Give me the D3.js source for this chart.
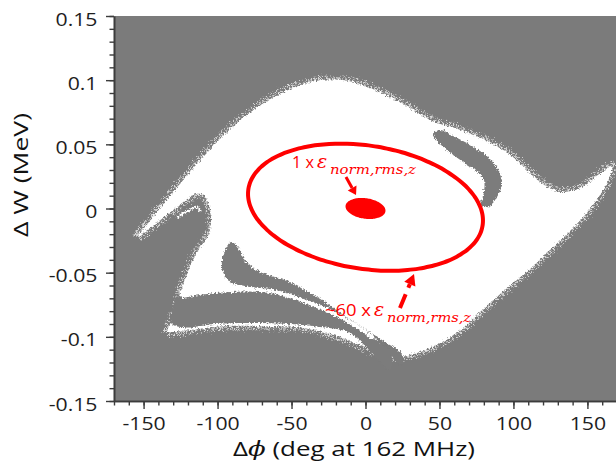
<!DOCTYPE html>
<html>
<head>
<meta charset="utf-8">
<script src="https://cdn.jsdelivr.net/npm/d3@7"></script>
<style>
  html, body { margin: 0; padding: 0; background: #ffffff; }
  svg { display: block; }
</style>
</head>
<body>
<svg id="chart" width="616" height="472"></svg>
<script>
// ---- axis ticks ----
const xTicks = [-150, -100, -50, 0, 50, 100, 150];
const xTickLabels = ["-150", "-100", "-50", "0", "50", "100", "150"];
const yTicks = [-0.15, -0.1, -0.05, 0, 0.05, 0.1, 0.15];
const yTickLabels = ["-0.15", "-0.1", "-0.05", "0", "0.05", "0.1", "0.15"];

// ---- longitudinal acceptance (Δφ in deg, ΔW in MeV) ----
// outer edge of the accepted (white) region, clockwise from the left spike tip
const acceptanceEdge = [
  [-154.5, -0.0222], [-149.0, -0.0144], [-138.9, 0.0004], [-128.8, 0.0144],
  [-118.6, 0.0284], [-108.5, 0.0417], [-95.0, 0.0581], [-79.4, 0.0736],
  [-63.2, 0.0861], [-45.6, 0.0955], [-29.4, 0.1001], [-11.8, 0.0994],
  [-0.3, 0.0955], [22.0, 0.0838], [45.0, 0.0682], [60.5, 0.0627],
  [76.0, 0.0557], [94.3, 0.0448], [107.8, 0.0316], [118.0, 0.0206],
  [131.5, 0.0129], [146.3, 0.0168], [157.2, 0.0261], [166.6, 0.0331],
  [163.2, 0.0199], [157.2, 0.0082], [148.4, -0.0051], [136.9, -0.0191],
  [124.7, -0.0323], [112.5, -0.0456], [94.3, -0.0635], [78.7, -0.0791],
  [62.5, -0.0962], [45.0, -0.1079], [22.0, -0.1157], [6.4, -0.1110],
  [-17.2, -0.1001], [-44.3, -0.0927], [-71.3, -0.0916], [-98.4, -0.0919],
  [-122.0, -0.0951], [-133.5, -0.0955], [-130.1, -0.0853], [-126.7, -0.0713],
  [-122.7, -0.0573], [-117.3, -0.0417], [-111.2, -0.0292], [-106.5, -0.0214],
  [-104.4, -0.0105], [-105.8, 0.0027], [-109.8, 0.0105], [-114.6, 0.0113],
  [-121.3, 0.0066], [-130.8, -0.0019], [-140.3, -0.0105], [-148.4, -0.0175]
];

// lost-particle islands inside the accepted region
const hookIsland = [
  [50.4, 0.0612], [60.5, 0.0557], [72.0, 0.0487], [82.8, 0.0401],
  [89.6, 0.0300], [92.3, 0.0199], [88.9, 0.0090], [82.8, 0.0012],
  [78.1, 0.0027], [80.1, 0.0129], [80.1, 0.0214], [76.0, 0.0284],
  [67.9, 0.0347], [58.5, 0.0425], [50.4, 0.0503], [45.6, 0.0581]
];
const wedgeIsland = [
  [-90.9, -0.0261], [-86.2, -0.0300], [-80.8, -0.0417], [-72.7, -0.0487],
  [-61.2, -0.0534], [-51.0, -0.0573], [-38.9, -0.0651], [-27.4, -0.0729],
  [-13.9, -0.0838], [-0.3, -0.0939], [13.2, -0.1040], [24.7, -0.1134],
  [24.7, -0.1227], [6.4, -0.1009], [-7.1, -0.0900], [-24.0, -0.0791],
  [-44.3, -0.0697], [-64.6, -0.0635], [-81.5, -0.0604], [-92.3, -0.0565],
  [-97.0, -0.0464], [-95.6, -0.0347]
];
const lensIsland = [
  [-128.1, -0.0697], [-101.7, -0.0647], [-78.1, -0.0639], [-61.2, -0.0655],
  [-44.3, -0.0709], [-24.0, -0.0803], [-7.1, -0.0912], [6.4, -0.1021],
  [16.6, -0.1110], [16.6, -0.1258], [-10.5, -0.0970], [-30.8, -0.0923],
  [-51.0, -0.0900], [-78.1, -0.0892], [-101.7, -0.0900], [-122.0, -0.0927],
  [-131.5, -0.0892], [-130.8, -0.0791]
];
// thin surviving filaments between the lost-particle islands
const fingerFilament = [[-128.1, -0.0074], [-120.0, -0.0019], [-113.9, 0.0012], [-111.2, -0.0027]];
const bowlFilament = [
  [-124.0, -0.0682], [-101.7, -0.0643], [-78.1, -0.0631], [-61.2, -0.0651],
  [-44.3, -0.0709], [-24.0, -0.0803], [-7.1, -0.0908], [4.4, -0.1001]
];

// ---- beam ellipses: centre, half-extents and φ–W correlation ----
const rmsEllipse = { phi0: 0, w0: 0.0, phiHalf: 13.5, wHalf: 0.0082, rho: -0.2 };
const bigEllipse = { phi0: 0, w0: 0.001, phiHalf: 79.4, wHalf: 0.0495, rho: -0.21 };

// ---- annotation anchors (data units) ----
const rmsLabelAt = [-49.7, 0.0316];
const bigLabelAt = [-27.4, -0.0838];
const rmsArrow = [[-13.2, 0.0245], [-6.4, 0.0105]];
const bigArrow = [[23.3, -0.0776], [32.8, -0.0510]];

// ---------------------------------------------------------------
const W = 616, H = 472;
const plot = { left: 114, right: 617, top: 16, bottom: 401 };
const svg = d3.select("#chart");
const x = d3.scaleLinear().domain([-170, 170]).range([plot.left, plot.right]);
const y = d3.scaleLinear().domain([-0.15, 0.15]).range([plot.bottom, plot.top]);

const defs = svg.append("defs");
defs.append("clipPath").attr("id", "plotClip")
  .append("rect").attr("x", plot.left + 0.5).attr("y", plot.top)
  .attr("width", W - plot.left).attr("height", plot.bottom - plot.top);

// grainy particle-cloud edges
const grain = defs.append("filter").attr("id", "grain")
  .attr("x", "-5%").attr("y", "-5%").attr("width", "110%").attr("height", "110%");
grain.append("feTurbulence").attr("type", "fractalNoise").attr("baseFrequency", 0.55)
  .attr("numOctaves", 2).attr("seed", 7).attr("result", "noise");
grain.append("feDisplacementMap").attr("in", "SourceGraphic").attr("in2", "noise")
  .attr("scale", 5).attr("xChannelSelector", "R").attr("yChannelSelector", "G");

const halo = defs.append("filter").attr("id", "halo")
  .attr("x", "-5%").attr("y", "-5%").attr("width", "110%").attr("height", "110%");
halo.append("feTurbulence").attr("type", "fractalNoise").attr("baseFrequency", 0.8)
  .attr("numOctaves", 2).attr("seed", 3).attr("result", "noise");
halo.append("feDisplacementMap").attr("in", "SourceGraphic").attr("in2", "noise")
  .attr("scale", 9).attr("xChannelSelector", "R").attr("yChannelSelector", "G");

const GRAY = "#7b7b7b";
const RED = "#ff0000";

const area = svg.append("g").attr("clip-path", "url(#plotClip)");
area.append("rect")
  .attr("x", plot.left).attr("y", plot.top)
  .attr("width", plot.right - plot.left).attr("height", plot.bottom - plot.top)
  .attr("fill", GRAY);

const closedPath = d3.line().x(d => x(d[0])).y(d => y(d[1]))
  .curve(d3.curveCatmullRomClosed.alpha(0.5));
const openPath = d3.line().x(d => x(d[0])).y(d => y(d[1]))
  .curve(d3.curveCatmullRom.alpha(0.5));

// scattered outliers just outside the acceptance edge
area.append("path")
  .attr("d", closedPath(acceptanceEdge))
  .attr("fill", "none").attr("stroke", "#ffffff").attr("stroke-width", 9)
  .attr("stroke-dasharray", "1.2 2.6").attr("opacity", 0.7)
  .attr("filter", "url(#halo)");

const cloud = area.append("g").attr("filter", "url(#grain)");
cloud.append("path").attr("d", closedPath(acceptanceEdge)).attr("fill", "#ffffff");
[hookIsland, wedgeIsland, lensIsland].forEach(isl => {
  cloud.append("path").attr("d", closedPath(isl)).attr("fill", GRAY);
});
cloud.append("path").attr("d", openPath(fingerFilament))
  .attr("fill", "none").attr("stroke", "#ffffff").attr("stroke-width", 2.2);
cloud.append("path").attr("d", openPath(bowlFilament))
  .attr("fill", "none").attr("stroke", "#ffffff").attr("stroke-width", 4)
  .attr("stroke-linecap", "round");

// beam ellipses
function ellipsePoints(e) {
  const alpha = Math.acos(e.rho);
  return d3.range(0, 360, 3).map(a => {
    const t = a * Math.PI / 180;
    return [e.phi0 + e.phiHalf * Math.cos(t), e.w0 + e.wHalf * Math.cos(t - alpha)];
  });
}
area.append("path").attr("d", closedPath(ellipsePoints(bigEllipse)))
  .attr("fill", "none").attr("stroke", RED).attr("stroke-width", 4);
area.append("path").attr("d", closedPath(ellipsePoints(rmsEllipse)))
  .attr("fill", RED);

// arrows
function arrowHead(from, to, len, half) {
  const x0 = x(from[0]), y0 = y(from[1]), x1 = x(to[0]), y1 = y(to[1]);
  const dx = x1 - x0, dy = y1 - y0, L = Math.hypot(dx, dy);
  const ux = dx / L, uy = dy / L;
  const bx = x1 - ux * len, by = y1 - uy * len;
  return { base: [bx, by], pts: [[x1, y1], [bx - uy * half, by + ux * half], [bx + uy * half, by - ux * half]] };
}
{
  const h = arrowHead(rmsArrow[0], rmsArrow[1], 8, 5);
  area.append("line")
    .attr("x1", x(rmsArrow[0][0])).attr("y1", y(rmsArrow[0][1]))
    .attr("x2", h.base[0]).attr("y2", h.base[1])
    .attr("stroke", RED).attr("stroke-width", 3);
  area.append("polygon").attr("points", h.pts.map(p => p.join(",")).join(" ")).attr("fill", RED);
}
{
  const h = arrowHead(bigArrow[0], bigArrow[1], 11, 6);
  area.append("line")
    .attr("x1", x(bigArrow[0][0])).attr("y1", y(bigArrow[0][1]))
    .attr("x2", h.base[0]).attr("y2", h.base[1])
    .attr("stroke", RED).attr("stroke-width", 4).attr("stroke-dasharray", "15 7");
  area.append("polygon").attr("points", h.pts.map(p => p.join(",")).join(" ")).attr("fill", RED);
}

// annotation labels
function emittanceLabel(at, prefix, prefixW, subW) {
  const px = x(at[0]), py = y(at[1]);
  const g = area.append("g").attr("fill", RED);
  g.append("text").attr("x", px).attr("y", py)
    .attr("font-family", "'Open Sans', 'Noto Sans', sans-serif").attr("font-size", 17)
    .attr("textLength", prefixW).attr("lengthAdjust", "spacingAndGlyphs")
    .text(prefix);
  g.append("text").attr("x", px + prefixW + 3).attr("y", py)
    .attr("font-family", "'DejaVu Serif', serif").attr("font-style", "italic")
    .attr("font-size", 19).text("ε");
  g.append("text").attr("x", px + prefixW + 16).attr("y", py + 6)
    .attr("font-family", "'DejaVu Serif', serif").attr("font-style", "italic")
    .attr("font-size", 13)
    .attr("textLength", subW).attr("lengthAdjust", "spacingAndGlyphs")
    .text("norm,rms,z");
}
emittanceLabel(rmsLabelAt, "1 x", 22, 86);
emittanceLabel(bigLabelAt, "~60 x", 46, 84);

// ---- axes ----
const FONT = "'Open Sans', 'Noto Sans', sans-serif";
const AX = "#3c3c3c";

const xMinor = d3.axisBottom(x).tickValues(d3.range(-170, 171, 10)).tickSize(4.5).tickFormat("").tickSizeOuter(0);
const yMinor = d3.axisLeft(y).tickValues(d3.range(-15, 16, 1).map(v => v / 100)).tickSize(4.5).tickFormat("").tickSizeOuter(0);
const xMajor = d3.axisBottom(x).tickValues(xTicks).tickFormat((d, i) => xTickLabels[i])
  .tickSize(8).tickPadding(8).tickSizeOuter(0);
const yMajor = d3.axisLeft(y).tickValues(yTicks).tickFormat((d, i) => yTickLabels[i])
  .tickSize(8).tickPadding(6).tickSizeOuter(0);

const gx = svg.append("g").attr("transform", `translate(0,${plot.bottom})`);
gx.append("g").call(xMinor);
gx.append("g").call(xMajor);
const gy = svg.append("g").attr("transform", `translate(${plot.left},0)`);
gy.append("g").call(yMinor);
gy.append("g").call(yMajor);

svg.selectAll(".domain").attr("stroke", AX).attr("stroke-width", 1.6);
svg.selectAll(".tick line").attr("stroke", AX).attr("stroke-width", 1.4);
svg.selectAll(".tick text")
  .attr("font-family", FONT).attr("font-size", 18).attr("fill", "#1e1e1e")
  .attr("transform", "scale(1.18,1)");
gy.selectAll(".tick text").attr("dy", "0.5em");

// axis titles
const xt = svg.append("text")
  .attr("x", 354).attr("y", 456).attr("text-anchor", "middle")
  .attr("font-family", FONT).attr("font-size", 20).attr("fill", "#111")
  .attr("textLength", 242).attr("lengthAdjust", "spacingAndGlyphs");
xt.append("tspan").text("Δ");
xt.append("tspan").attr("font-family", "'DejaVu Serif', serif").attr("font-style", "italic").text("ϕ");
xt.append("tspan").text(" (deg at 162 MHz)");

svg.append("text")
  .attr("transform", "translate(28,175) rotate(-90)")
  .attr("text-anchor", "middle")
  .attr("font-family", FONT).attr("font-size", 20).attr("fill", "#111")
  .attr("textLength", 124).attr("lengthAdjust", "spacingAndGlyphs")
  .text("Δ W (MeV)");
</script>
</body>
</html>
